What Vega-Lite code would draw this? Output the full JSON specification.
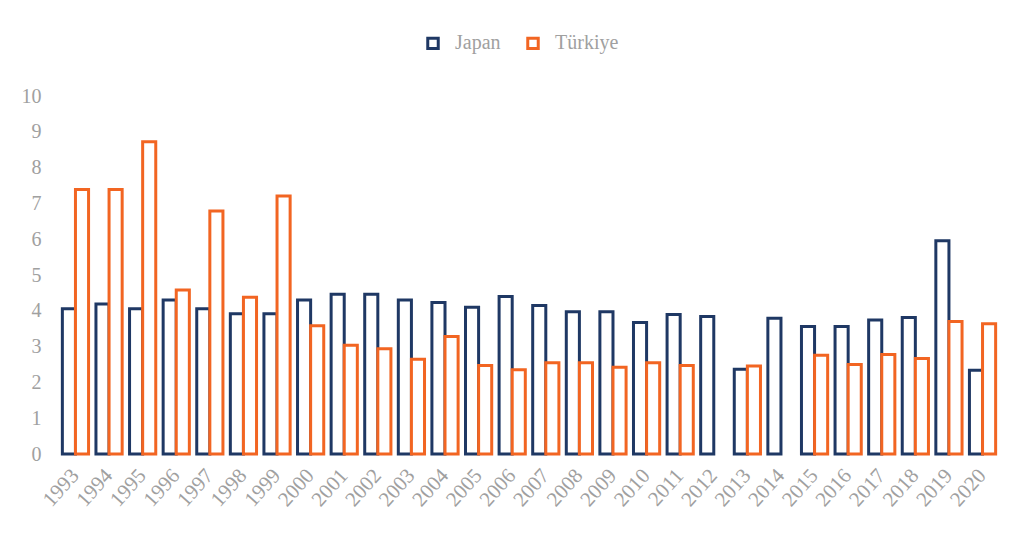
{
  "$schema": "https://vega.github.io/schema/vega-lite/v6.json",
  "width": 940,
  "height": 358,
  "autosize": {"type": "none"},
  "padding": {"left": 59, "top": 96, "right": 21, "bottom": 91},
  "background": "white",
  "config": {"view": {"stroke": null}},
  "data": {
    "values": [
      {"year": "1993", "country": "Japan", "value": 4.06},
      {"year": "1993", "country": "Türkiye", "value": 7.39},
      {"year": "1994", "country": "Japan", "value": 4.19},
      {"year": "1994", "country": "Türkiye", "value": 7.39},
      {"year": "1995", "country": "Japan", "value": 4.06},
      {"year": "1995", "country": "Türkiye", "value": 8.72},
      {"year": "1996", "country": "Japan", "value": 4.3},
      {"year": "1996", "country": "Türkiye", "value": 4.58},
      {"year": "1997", "country": "Japan", "value": 4.06},
      {"year": "1997", "country": "Türkiye", "value": 6.79},
      {"year": "1998", "country": "Japan", "value": 3.92},
      {"year": "1998", "country": "Türkiye", "value": 4.38},
      {"year": "1999", "country": "Japan", "value": 3.92},
      {"year": "1999", "country": "Türkiye", "value": 7.21},
      {"year": "2000", "country": "Japan", "value": 4.3},
      {"year": "2000", "country": "Türkiye", "value": 3.58},
      {"year": "2001", "country": "Japan", "value": 4.46},
      {"year": "2001", "country": "Türkiye", "value": 3.04},
      {"year": "2002", "country": "Japan", "value": 4.46},
      {"year": "2002", "country": "Türkiye", "value": 2.94},
      {"year": "2003", "country": "Japan", "value": 4.3},
      {"year": "2003", "country": "Türkiye", "value": 2.65},
      {"year": "2004", "country": "Japan", "value": 4.23},
      {"year": "2004", "country": "Türkiye", "value": 3.28},
      {"year": "2005", "country": "Japan", "value": 4.1},
      {"year": "2005", "country": "Türkiye", "value": 2.47},
      {"year": "2006", "country": "Japan", "value": 4.4},
      {"year": "2006", "country": "Türkiye", "value": 2.35},
      {"year": "2007", "country": "Japan", "value": 4.15},
      {"year": "2007", "country": "Türkiye", "value": 2.55},
      {"year": "2008", "country": "Japan", "value": 3.97},
      {"year": "2008", "country": "Türkiye", "value": 2.55},
      {"year": "2009", "country": "Japan", "value": 3.97},
      {"year": "2009", "country": "Türkiye", "value": 2.42},
      {"year": "2010", "country": "Japan", "value": 3.67},
      {"year": "2010", "country": "Türkiye", "value": 2.55},
      {"year": "2011", "country": "Japan", "value": 3.9},
      {"year": "2011", "country": "Türkiye", "value": 2.47},
      {"year": "2012", "country": "Japan", "value": 3.84},
      {"year": "2013", "country": "Japan", "value": 2.37},
      {"year": "2013", "country": "Türkiye", "value": 2.46},
      {"year": "2014", "country": "Japan", "value": 3.79},
      {"year": "2015", "country": "Japan", "value": 3.56},
      {"year": "2015", "country": "Türkiye", "value": 2.76},
      {"year": "2016", "country": "Japan", "value": 3.56},
      {"year": "2016", "country": "Türkiye", "value": 2.5},
      {"year": "2017", "country": "Japan", "value": 3.74},
      {"year": "2017", "country": "Türkiye", "value": 2.78},
      {"year": "2018", "country": "Japan", "value": 3.81},
      {"year": "2018", "country": "Türkiye", "value": 2.67},
      {"year": "2019", "country": "Japan", "value": 5.96},
      {"year": "2019", "country": "Türkiye", "value": 3.7},
      {"year": "2020", "country": "Japan", "value": 2.34},
      {"year": "2020", "country": "Türkiye", "value": 3.64}
    ]
  },
  "mark": {"type": "bar", "fill": "white", "strokeWidth": 3, "strokeJoin": "miter"},
  "encoding": {
    "x": {
      "field": "year",
      "type": "nominal",
      "scale": {"paddingInner": 0.22, "paddingOuter": 0.1},
      "axis": {
        "title": null,
        "domain": false,
        "ticks": false,
        "labelAngle": -48,
        "labelAlign": "right",
        "labelBaseline": "middle",
        "labelOverlap": false,
        "labelFont": "Liberation Serif",
        "labelFontSize": 21,
        "labelColor": "#a0a0a0",
        "labelPadding": 18
      }
    },
    "xOffset": {"field": "country", "type": "nominal", "sort": ["Japan", "Türkiye"]},
    "y": {
      "field": "value",
      "type": "quantitative",
      "scale": {"domain": [0, 10], "nice": false},
      "axis": {
        "title": null,
        "domain": false,
        "ticks": false,
        "grid": false,
        "values": [0, 1, 2, 3, 4, 5, 6, 7, 8, 9, 10],
        "labelOverlap": false,
        "labelFont": "Liberation Serif",
        "labelFontSize": 20,
        "labelColor": "#a0a0a0",
        "labelPadding": 18
      }
    },
    "stroke": {
      "field": "country",
      "type": "nominal",
      "scale": {"domain": ["Japan", "Türkiye"], "range": ["#1f3864", "#f26522"]},
      "legend": {
        "title": null,
        "orient": "none",
        "direction": "horizontal",
        "legendX": 364,
        "legendY": -63,
        "symbolType": "square",
        "symbolSize": 110,
        "symbolStrokeWidth": 3,
        "symbolFillColor": "white",
        "labelFont": "Liberation Serif",
        "labelFontSize": 20,
        "labelColor": "#a0a0a0",
        "labelOffset": 12,
        "columnPadding": 20
      }
    }
  }
}
